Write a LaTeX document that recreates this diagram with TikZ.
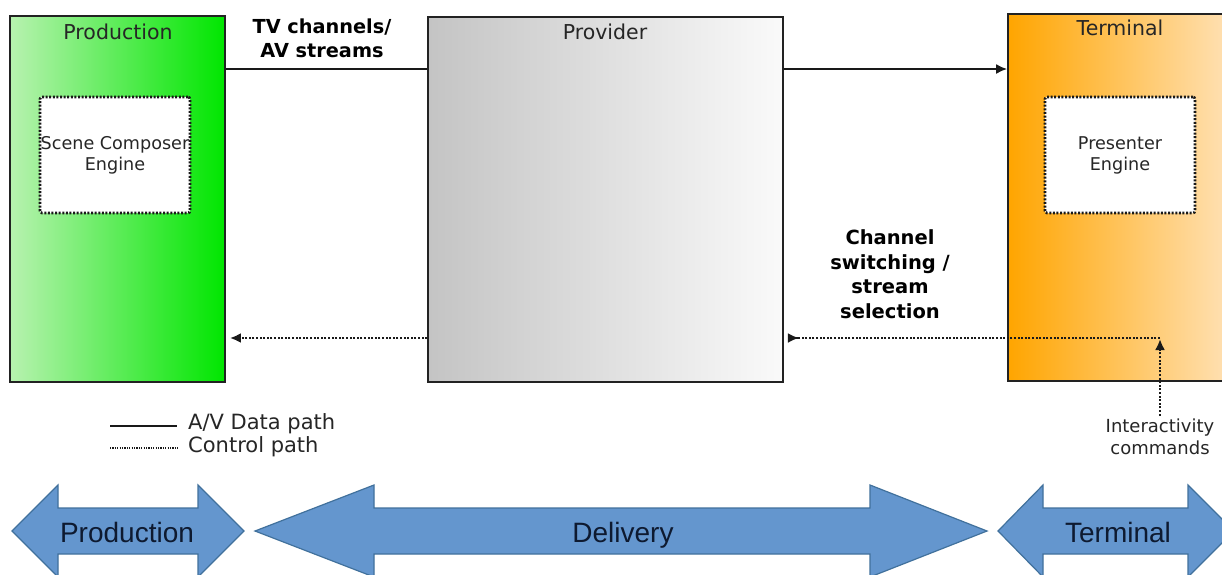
\documentclass[tikz,border=0pt]{standalone}
\usepackage{fontspec}
\setmainfont{DejaVu Sans}
\newfontfamily\arialfont{Liberation Sans}
\usetikzlibrary{arrows.meta}
\definecolor{boxedge}{HTML}{222222}
\definecolor{gleft}{HTML}{B8F2B0}
\definecolor{gright}{HTML}{00E600}
\definecolor{pleft}{HTML}{C4C4C4}
\definecolor{pright}{HTML}{FAFAFA}
\definecolor{tleft}{HTML}{FFA500}
\definecolor{tright}{HTML}{FFE2B8}
\definecolor{bigfill}{HTML}{6496CE}
\definecolor{bigedge}{HTML}{41719C}
\definecolor{bigtext}{HTML}{0E1A30}
\tikzset{
  stagebox/.style={draw=boxedge, line width=1.8pt, rectangle, inner sep=0pt},
  enginebox/.style={draw=black!90, fill=white, line width=2.6pt, dash pattern=on 2pt off 1.6pt, rectangle, rounded corners=2pt, minimum width=150pt, minimum height=116pt, inner sep=0pt, align=center, font=\fontsize{17.6}{21}\selectfont, text=black!85},
  titletext/.style={font=\fontsize{20.5}{24}\selectfont, text=black!85},
  labeltext/.style={font=\bfseries\fontsize{19.3}{24}\selectfont, align=center},
  datapath/.style={draw=black!90, line width=1.8pt},
  ctrlpath/.style={draw=black!90, line width=2.6pt, dash pattern=on 2pt off 1.6pt},
  tipstyle/.style={-{Latex[length=11pt,width=10pt]}},
  bigarrow/.style={fill=bigfill, draw=bigedge, line width=1.2pt, line join=miter},
  bigtextstyle/.style={font=\arialfont\fontsize{28}{32}\selectfont, text=bigtext, text height=20pt, text depth=6pt},
  legendtext/.style={font=\fontsize{21}{24}\selectfont, anchor=west, inner sep=0pt, text=black!85}
}
\begin{document}
\begin{tikzpicture}[x=1pt,y=-1pt]
\useasboundingbox (0,0) rectangle (1222,574);
\clip (0,0) rectangle (1222,574);
\fill[white] (0,0) rectangle (1222,574);

% stage boxes
\node[stagebox, left color=gleft, right color=gright, minimum width=215pt, minimum height=366pt] (prod) at (117.5,199) {};
\node[stagebox, left color=pleft, right color=pright, minimum width=355pt, minimum height=365pt] (prov) at (605.5,199.5) {};
\node[stagebox, left color=tleft, right color=tright, minimum width=226pt, minimum height=367pt] (term) at (1121,197.5) {};

\node[titletext] (prodtitle) at (118,32) {Production};
\node[titletext] (provtitle) at (605,32) {Provider};
\node[titletext] (termtitle) at (1120,28) {Terminal};

\node[enginebox] (scene) at (115,155) {Scene Composer\\Engine};
\node[enginebox] (presenter) at (1120,155) {Presenter\\Engine};

% data path
\coordinate (dy) at (0,69);
\draw[datapath] (prod.east |- dy) -- (prov.west |- dy);
\draw[datapath, tipstyle] (prov.east |- dy) -- (term.west |- dy);
\node[labeltext] (tvlabel) at (322,38) {TV channels/\\AV streams};

% control path
\node[font=\fontsize{18}{22}\selectfont, align=center, text=black!85] (inter) at (1160,437) {Interactivity\\commands};
\coordinate (c1) at (1160,338);
\draw[ctrlpath] (c1) -- ([xshift=14pt]prov.east |- c1);
\draw[ctrlpath, tipstyle] ([xshift=14pt]prov.east |- c1) -- ([xshift=15pt]prov.east |- c1);
\draw[ctrlpath, tipstyle] (prov.west |- c1) -- ([xshift=4pt]prod.east |- c1);
\draw[ctrlpath, tipstyle] (inter.north) -- ([yshift=-1pt]c1);
\node[labeltext, font=\bfseries\fontsize{19.5}{24.5}\selectfont] (chlabel) at (890,274) {Channel\\switching /\\stream\\selection};

% legend
\coordinate (l1) at (110,426);
\coordinate (l2) at (110,448);
\draw[datapath, line width=1.6pt] (l1) -- ++(67,0);
\draw[ctrlpath, line width=1.6pt, dash pattern=on 1.2pt off 1.2pt] (l2) -- ++(68,0);
\node[legendtext] (leg1) at (188,424) {A/V Data path};
\node[legendtext] (leg2) at (188,447) {Control path};

% bottom phase arrows
\draw[bigarrow] (12,531) -- (58,485) -- (58,508) -- (198,508) -- (198,485) -- (244,531) -- (198,577) -- (198,554) -- (58,554) -- (58,577) -- cycle;
\draw[bigarrow] (255,531) -- (374,485) -- (374,508) -- (870,508) -- (870,485) -- (987,531) -- (870,577) -- (870,554) -- (374,554) -- (374,577) -- cycle;
\draw[bigarrow] (998,531) -- (1043,485) -- (1043,508) -- (1188,508) -- (1188,485) -- (1234,531) -- (1188,577) -- (1188,554) -- (1043,554) -- (1043,577) -- cycle;
\node[bigtextstyle] (ptext) at (127,535) {Production};
\node[bigtextstyle] (dtext) at (623,535) {Delivery};
\node[bigtextstyle] (ttext) at (1118,535) {Terminal};
\end{tikzpicture}
\end{document}
